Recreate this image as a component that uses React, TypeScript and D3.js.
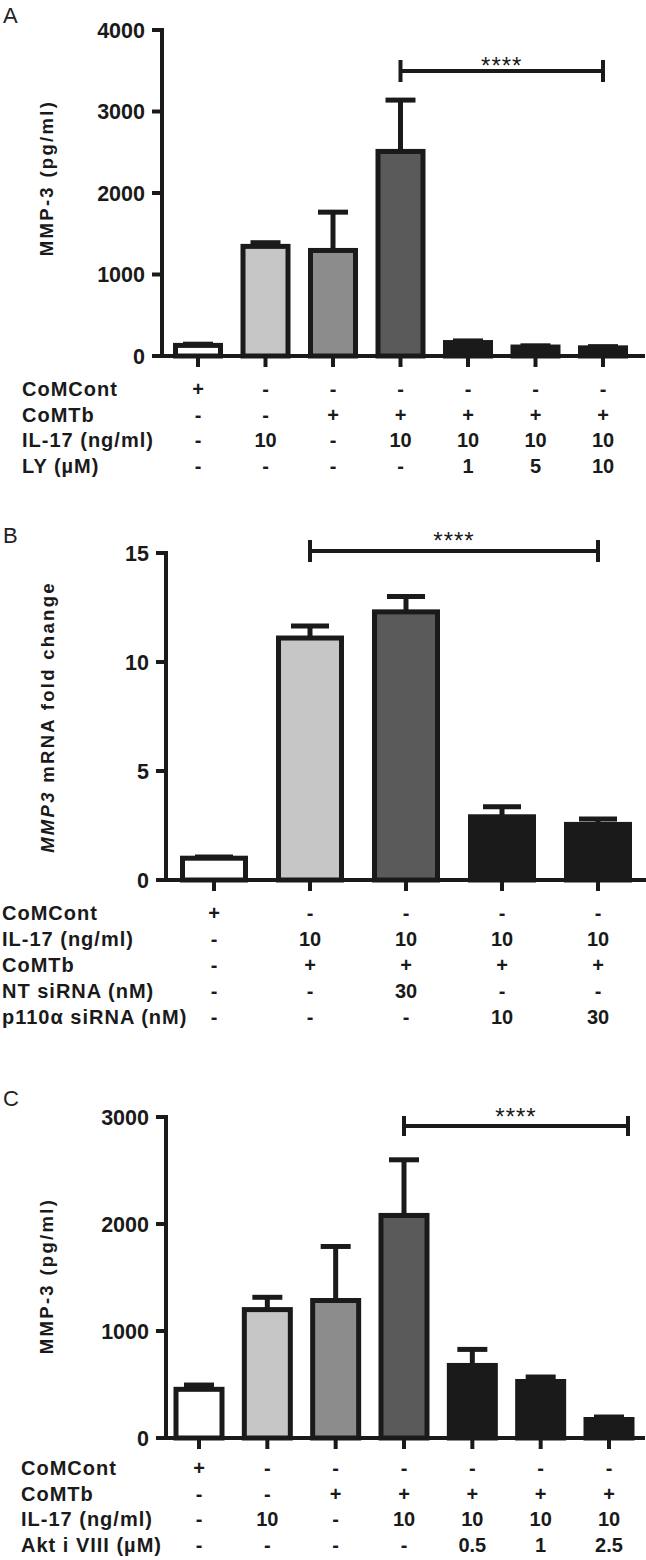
import React from 'react';
import * as d3 from 'd3';

// ---------- Panel A data ----------
const panelAValues = [130, 1345, 1295, 2510, 165, 110, 100];
const panelAErrors = [15, 45, 470, 630, 20, 15, 15];
const panelAFills = ['#ffffff', '#c6c6c6', '#8c8c8c', '#5a5a5a', '#1a1a1a', '#1a1a1a', '#1a1a1a'];
const panelATicks = [0, 1000, 2000, 3000, 4000];
const panelARowLabels = ['CoMCont', 'CoMTb', 'IL-17 (ng/ml)', 'LY (µM)'];
const panelARows = [
  ['+', '-', '-', '-', '-', '-', '-'],
  ['-', '-', '+', '+', '+', '+', '+'],
  ['-', '10', '-', '10', '10', '10', '10'],
  ['-', '-', '-', '-', '1', '5', '10'],
];

// ---------- Panel B data ----------
const panelBValues = [1.0, 11.1, 12.3, 2.9, 2.55];
const panelBErrors = [0.05, 0.55, 0.7, 0.46, 0.25];
const panelBFills = ['#ffffff', '#c6c6c6', '#5a5a5a', '#1a1a1a', '#1a1a1a'];
const panelBTicks = [0, 5, 10, 15];
const panelBRowLabels = ['CoMCont', 'IL-17 (ng/ml)', 'CoMTb', 'NT siRNA (nM)', 'p110α siRNA (nM)'];
const panelBRows = [
  ['+', '-', '-', '-', '-'],
  ['-', '10', '10', '10', '10'],
  ['-', '+', '+', '+', '+'],
  ['-', '-', '30', '-', '-'],
  ['-', '-', '-', '10', '30'],
];

// ---------- Panel C data ----------
const panelCValues = [455, 1200, 1285, 2080, 678, 528, 173];
const panelCErrors = [40, 115, 505, 520, 150, 42, 23];
const panelCFills = ['#ffffff', '#c6c6c6', '#8c8c8c', '#5a5a5a', '#1a1a1a', '#1a1a1a', '#1a1a1a'];
const panelCTicks = [0, 1000, 2000, 3000];
const panelCRowLabels = ['CoMCont', 'CoMTb', 'IL-17 (ng/ml)', 'Akt i VIII (µM)'];
const panelCRows = [
  ['+', '-', '-', '-', '-', '-', '-'],
  ['-', '-', '+', '+', '+', '+', '+'],
  ['-', '10', '-', '10', '10', '10', '10'],
  ['-', '-', '-', '-', '0.5', '1', '2.5'],
];

const FONT = "'Liberation Sans', Arial, Helvetica, sans-serif";
const INK = '#1a1a1a';

type Geom = {
  letterY: number;
  axisX: number;
  yTop: number;
  yBottom: number;
  firstCenter: number;
  lastCenter: number;
  barWidth: number;
  capW: number;
  xEnd: number;
  bracketFrom: number;
  bracketTo: number;
  bracketExtra: number;
  bracketY: number;
  bracketCapTop: number;
  bracketCapBottom: number;
  starsBaseline: number;
  rowLabelX: number;
  rowBaseline: number;
  rowStep: number;
  yLabelX: number;
  yLabelY: number;
};

type PanelProps = {
  letter: string;
  values: number[];
  errors: number[];
  fills: string[];
  ticks: number[];
  rowLabels: string[];
  rows: string[][];
  yLabel: React.ReactNode;
  g: Geom;
};

function Panel({ letter, values, errors, fills, ticks, rowLabels, rows, yLabel, g }: PanelProps) {
  const idx = d3.range(values.length);
  const x = d3.scalePoint<number>().domain(idx).range([g.firstCenter, g.lastCenter]);
  const y = d3.scaleLinear().domain([0, d3.max(ticks) as number]).range([g.yBottom, g.yTop]);
  const bx1 = x(g.bracketFrom) as number;
  const bx2 = (x(g.bracketTo) as number) + g.bracketExtra;
  return (
    <g>
      <text x={3} y={g.letterY} fontFamily={FONT} fontSize={22} fill="#222">{letter}</text>
      {/* y axis label */}
      <text
        transform={`translate(${g.yLabelX},${g.yLabelY}) rotate(-90)`}
        textAnchor="middle"
        fontFamily={FONT}
        fontWeight="bold"
        fontSize={18.5}
        letterSpacing={2.3}
        fill={INK}
      >
        {yLabel}
      </text>
      {/* y axis */}
      <line x1={g.axisX} x2={g.axisX} y1={y(d3.max(ticks) as number) - 2} y2={g.yBottom} stroke={INK} strokeWidth={4} />
      {ticks.map((t) => (
        <g key={t}>
          <line x1={g.axisX - 10} x2={g.axisX} y1={y(t)} y2={y(t)} stroke={INK} strokeWidth={4} />
          <text
            x={g.axisX - 17}
            y={y(t)}
            dy="0.36em"
            textAnchor="end"
            fontFamily={FONT}
            fontWeight="bold"
            fontSize={21.5}
            fill={INK}
          >
            {t}
          </text>
        </g>
      ))}
      {/* bars */}
      {idx.map((i) => {
        const cx = x(i) as number;
        const top = y(values[i]);
        const errTop = y(values[i] + errors[i]);
        return (
          <g key={i}>
            <line x1={cx} x2={cx} y1={top} y2={errTop} stroke={INK} strokeWidth={5} />
            <line x1={cx - g.capW / 2} x2={cx + g.capW / 2} y1={errTop} y2={errTop} stroke={INK} strokeWidth={5} />
            <rect
              x={cx - g.barWidth / 2}
              y={top}
              width={g.barWidth}
              height={g.yBottom - top}
              fill={fills[i]}
              stroke={INK}
              strokeWidth={5}
            />
          </g>
        );
      })}
      {/* x axis */}
      <line x1={g.axisX - 2} x2={g.xEnd} y1={g.yBottom} y2={g.yBottom} stroke={INK} strokeWidth={4} />
      {idx.map((i) => (
        <line key={i} x1={x(i) as number} x2={x(i) as number} y1={g.yBottom} y2={g.yBottom + 11} stroke={INK} strokeWidth={4} />
      ))}
      {/* significance bracket */}
      <line x1={bx1} x2={bx2} y1={g.bracketY} y2={g.bracketY} stroke={INK} strokeWidth={4} />
      <line x1={bx1} x2={bx1} y1={g.bracketCapTop} y2={g.bracketCapBottom} stroke={INK} strokeWidth={4} />
      <line x1={bx2} x2={bx2} y1={g.bracketCapTop} y2={g.bracketCapBottom} stroke={INK} strokeWidth={4} />
      <text x={(bx1 + bx2) / 2} y={g.starsBaseline} textAnchor="middle" fontFamily={FONT} fontSize={24} letterSpacing={1} fill={INK}>
        ****
      </text>
      {/* condition table */}
      {rowLabels.map((lab, r) => (
        <g key={lab}>
          <text
            x={g.rowLabelX}
            y={g.rowBaseline + r * g.rowStep}
            fontFamily={FONT}
            fontWeight="bold"
            fontSize={20}
            letterSpacing={1}
            fill={INK}
          >
            {lab}
          </text>
          {rows[r].map((v, i) => (
            <text
              key={i}
              x={x(i) as number}
              y={g.rowBaseline + r * g.rowStep}
              textAnchor="middle"
              fontFamily={FONT}
              fontWeight="bold"
              fontSize={20}
              fill={INK}
            >
              {v}
            </text>
          ))}
        </g>
      ))}
    </g>
  );
}

const geomA: Geom = {
  letterY: 23, axisX: 162, yTop: 30, yBottom: 356, firstCenter: 198, lastCenter: 603,
  barWidth: 45, capW: 30, xEnd: 645, bracketFrom: 3, bracketTo: 6, bracketExtra: 0,
  bracketY: 71, bracketCapTop: 60, bracketCapBottom: 82, starsBaseline: 74,
  rowLabelX: 22, rowBaseline: 396, rowStep: 25.5, yLabelX: 53, yLabelY: 178,
};
const geomB: Geom = {
  letterY: 543, axisX: 166, yTop: 553, yBottom: 880, firstCenter: 214, lastCenter: 598,
  barWidth: 63, capW: 38, xEnd: 646, bracketFrom: 1, bracketTo: 4, bracketExtra: 0,
  bracketY: 551, bracketCapTop: 540, bracketCapBottom: 562, starsBaseline: 549,
  rowLabelX: 2, rowBaseline: 920, rowStep: 26, yLabelX: 54, yLabelY: 717,
};
const geomC: Geom = {
  letterY: 1106, axisX: 166, yTop: 1117, yBottom: 1438, firstCenter: 199, lastCenter: 609,
  barWidth: 46, capW: 30, xEnd: 645, bracketFrom: 3, bracketTo: 6, bracketExtra: 19,
  bracketY: 1126, bracketCapTop: 1116, bracketCapBottom: 1136, starsBaseline: 1125,
  rowLabelX: 21, rowBaseline: 1475, rowStep: 25.7, yLabelX: 53, yLabelY: 1276,
};

export default function App() {
  return (
    <svg
      width={646}
      height={1560}
      viewBox="0 0 646 1560"
      style={{ position: 'absolute', left: 0, top: 0, background: '#fff' }}
    >
      <rect x={0} y={0} width={646} height={1560} fill="#fff" />
      <Panel
        letter="A"
        values={panelAValues}
        errors={panelAErrors}
        fills={panelAFills}
        ticks={panelATicks}
        rowLabels={panelARowLabels}
        rows={panelARows}
        yLabel="MMP-3 (pg/ml)"
        g={geomA}
      />
      <Panel
        letter="B"
        values={panelBValues}
        errors={panelBErrors}
        fills={panelBFills}
        ticks={panelBTicks}
        rowLabels={panelBRowLabels}
        rows={panelBRows}
        yLabel={<><tspan fontStyle="italic">MMP3</tspan> mRNA fold change</>}
        g={geomB}
      />
      <Panel
        letter="C"
        values={panelCValues}
        errors={panelCErrors}
        fills={panelCFills}
        ticks={panelCTicks}
        rowLabels={panelCRowLabels}
        rows={panelCRows}
        yLabel="MMP-3 (pg/ml)"
        g={geomC}
      />
    </svg>
  );
}
